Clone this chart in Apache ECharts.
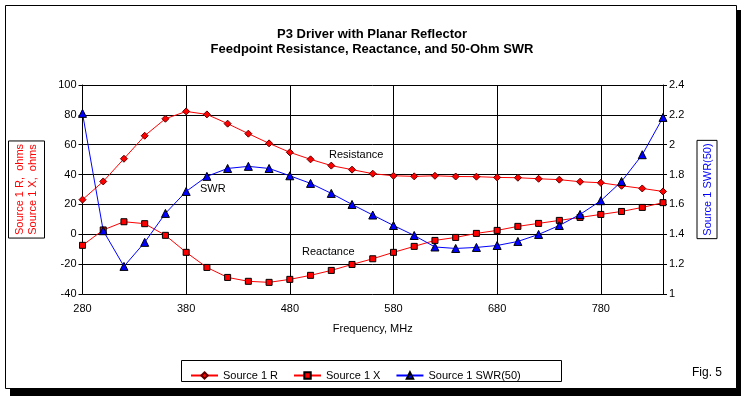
<!DOCTYPE html>
<html>
<head>
<meta charset="utf-8">
<script src="https://cdn.jsdelivr.net/npm/echarts@6/dist/echarts.min.js"></script>
<style>
html,body{margin:0;padding:0;background:#fff;}
#chart{width:744px;height:396px;}
</style>
</head>
<body>
<div id="chart"></div>
<script>
// Frequency categories (MHz)
var categories = ['280','300','320','340','360','380','400','420','440','460','480','500','520','540','560','580','600','620','640','660','680','700','720','740','760','780','800','820','840'];
// Source 1 R (ohms)
var resistance = [23.2, 35.4, 50.6, 66.0, 77.4, 82.3, 80.3, 74.1, 67.4, 60.9, 54.9, 50.2, 46.0, 43.3, 40.6, 39.2, 38.8, 39.2, 38.7, 38.6, 38.1, 37.9, 37.2, 36.6, 35.2, 34.5, 32.5, 30.7, 28.7];
// Source 1 X (ohms)
var reactance = [-7.4, 2.9, 8.4, 7.1, -0.7, -12.1, -22.2, -28.9, -31.5, -32.2, -30.2, -27.5, -24.2, -20.2, -16.4, -12.1, -8.1, -4.1, -2.1, 0.6, 2.6, 5.3, 7.3, 9.3, 11.3, 13.3, 15.3, 18.0, 21.2];
// Source 1 SWR(50)
var swr = [2.21, 1.424, 1.185, 1.346, 1.54, 1.687, 1.788, 1.841, 1.855, 1.841, 1.792, 1.741, 1.674, 1.60, 1.529, 1.459, 1.392, 1.315, 1.305, 1.312, 1.325, 1.352, 1.399, 1.459, 1.533, 1.625, 1.754, 1.933, 2.183];
// Axis ranges
var leftAxisRange = [-40, 100, 20];
var rightAxisRange = [1, 2.4, 0.2];

var FONT = 'Arial, "Liberation Sans", sans-serif';
var chart = echarts.init(document.getElementById('chart'), null, {renderer: 'canvas'});

var option = {
  backgroundColor: '#ffffff',
  animation: false,
  textStyle: {fontFamily: FONT},
  title: {
    text: 'P3 Driver with Planar Reflector\nFeedpoint Resistance, Reactance, and 50-Ohm SWR',
    left: 'center',
    top: 22,
    textStyle: {fontFamily: FONT, fontSize: 13, fontWeight: 'bold', color: '#000', lineHeight: 15}
  },
  graphic: [
    {type: 'rect', z: -20, silent: true, shape: {x: 10, y: 10, width: 731, height: 390}, style: {fill: '#000'}},
    {type: 'rect', z: -19, silent: true, shape: {x: 5.5, y: 5.5, width: 731, height: 383}, style: {fill: '#fff', stroke: '#000', lineWidth: 1}},
    {type: 'rect', z: -18, silent: true, shape: {x: 181.5, y: 360.5, width: 380, height: 21}, style: {fill: '#fff', stroke: '#000', lineWidth: 1}},
    {type: 'text', z: 10, left: 329, top: 149, style: {text: 'Resistance', font: '11px ' + FONT, fill: '#000'}},
    {type: 'text', z: 10, left: 302, top: 246, style: {text: 'Reactance', font: '11px ' + FONT, fill: '#000'}},
    {type: 'text', z: 10, left: 200, top: 183, style: {text: 'SWR', font: '11px ' + FONT, fill: '#000'}},
    {type: 'text', z: 10, left: 692, top: 367, style: {text: 'Fig. 5', font: '12px ' + FONT, fill: '#000'}}
  ],
  legend: {
    left: 185,
    top: 365,
    itemWidth: 27,
    itemHeight: 8,
    itemGap: 15,
    textStyle: {fontFamily: FONT, fontSize: 11, color: '#000'},
    data: ['Source 1 R', 'Source 1 X', 'Source 1 SWR(50)']
  },
  grid: {left: 82, right: 81, top: 85, bottom: 102, containLabel: false},
  xAxis: {
    type: 'category',
    data: categories,
    boundaryGap: false,
    name: 'Frequency, MHz',
    nameLocation: 'middle',
    nameGap: 29,
    nameTextStyle: {fontFamily: FONT, fontSize: 11, color: '#000'},
    axisLine: {lineStyle: {color: '#000', width: 1}},
    axisTick: {interval: 4, length: 4, lineStyle: {color: '#000'}},
    axisLabel: {interval: 4, margin: 9, fontFamily: FONT, fontSize: 11, color: '#000'},
    splitLine: {show: true, interval: 4, lineStyle: {color: '#000', width: 1}}
  },
  yAxis: [
    {
      type: 'value',
      min: leftAxisRange[0], max: leftAxisRange[1], interval: leftAxisRange[2],
      position: 'left',
      name: 'Source 1 R,  ohms\nSource 1 X,  ohms',
      nameLocation: 'middle',
      nameRotate: 90,
      nameGap: 38,
      nameTextStyle: {fontFamily: FONT, fontSize: 11, color: '#ff0000', lineHeight: 13, borderColor: '#000', borderWidth: 1, padding: [5, 3, 5, 3]},
      axisLine: {show: true, lineStyle: {color: '#000', width: 1}},
      axisTick: {show: true, length: 4, lineStyle: {color: '#000'}},
      axisLabel: {margin: 6, fontFamily: FONT, fontSize: 11, color: '#000'},
      splitLine: {show: true, lineStyle: {color: '#000', width: 1}}
    },
    {
      type: 'value',
      min: rightAxisRange[0], max: rightAxisRange[1], interval: rightAxisRange[2],
      position: 'right',
      name: 'Source 1 SWR(50)',
      nameLocation: 'middle',
      nameRotate: 90,
      nameGap: 34,
      nameTextStyle: {fontFamily: FONT, fontSize: 11, color: '#0000ff', borderColor: '#000', borderWidth: 1, padding: [5, 3, 4, 3]},
      axisLine: {show: true, lineStyle: {color: '#000', width: 1}},
      axisTick: {show: true, length: 4, lineStyle: {color: '#000'}},
      axisLabel: {margin: 6, fontFamily: FONT, fontSize: 11, color: '#000'},
      splitLine: {show: false}
    }
  ],
  series: [
    {
      name: 'Source 1 R', type: 'line', yAxisIndex: 0, data: resistance,
      symbol: 'diamond', symbolSize: 7, showAllSymbol: true,
      lineStyle: {color: '#ff0000', width: 1},
      itemStyle: {color: '#ff0000', borderColor: '#600000', borderWidth: 1}
    },
    {
      name: 'Source 1 X', type: 'line', yAxisIndex: 0, data: reactance,
      symbol: 'rect', symbolSize: 6, showAllSymbol: true,
      lineStyle: {color: '#ff0000', width: 1},
      itemStyle: {color: '#ff0000', borderColor: '#000', borderWidth: 1}
    },
    {
      name: 'Source 1 SWR(50)', type: 'line', yAxisIndex: 1, data: swr,
      symbol: 'triangle', symbolSize: 8, showAllSymbol: true,
      lineStyle: {color: '#0000ff', width: 1},
      itemStyle: {color: '#0000ff', borderColor: '#000', borderWidth: 1}
    }
  ]
};
chart.setOption(option);
</script>
</body>
</html>
